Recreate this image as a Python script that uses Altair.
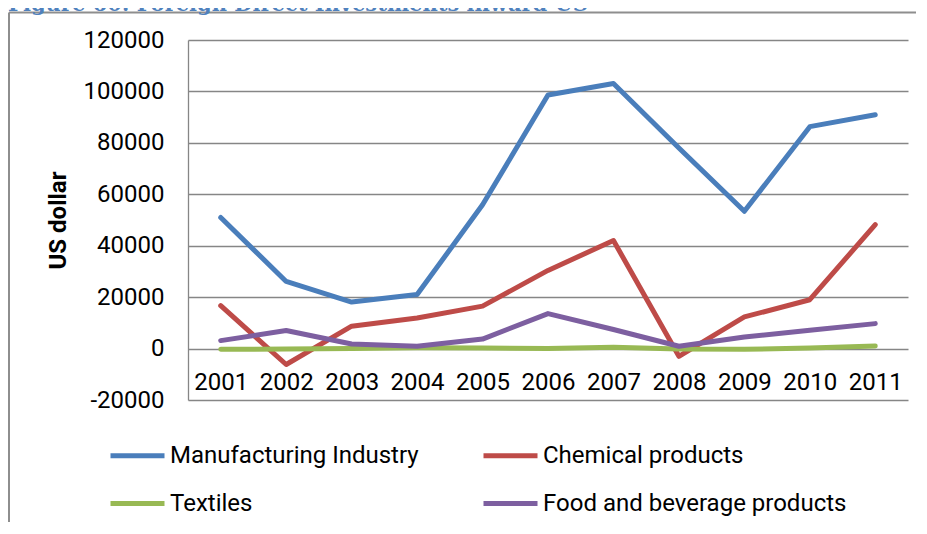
import altair as alt
import pandas as pd

years = [2001, 2002, 2003, 2004, 2005, 2006, 2007, 2008, 2009, 2010, 2011]
manufacturing = [51000, 26100, 18100, 21000, 55900, 98600, 103100, 78000, 53400, 86300, 90900]
chemical = [16700, -6200, 8700, 11900, 16500, 30400, 42000, -3000, 12300, 19000, 48200]
textiles = [-300, -200, 0, 300, 200, 0, 500, -200, -300, 200, 1000]
food = [3100, 7000, 1800, 900, 3700, 13600, 7400, 900, 4500, 7100, 9700]

series_names = ["Manufacturing Industry", "Chemical products", "Textiles", "Food and beverage products"]
series_values = [manufacturing, chemical, textiles, food]
series_colors = ["#4A7EBB", "#BE4B48", "#98B954", "#7D5FA0"]

y_ticks = [-20000, 0, 20000, 40000, 60000, 80000, 100000, 120000]
title_text = "Figure 60: Foreign Direct Investments inward US"
y_title = "US dollar"

rows = []
for name, vals in zip(series_names, series_values):
    for yr, v in zip(years, vals):
        rows.append({"Year": str(yr), "Value": v, "Series": name})
df = pd.DataFrame(rows)

W, H = 720, 360
FONT = "Roboto"

lines = alt.Chart(df).mark_line(strokeWidth=5, strokeCap="round", strokeJoin="round").encode(
    x=alt.X("Year:O", scale=alt.Scale(type="point", padding=0.5),
            axis=alt.Axis(title=None, orient="bottom", offset=-51.4, labelPadding=22,
                          ticks=False, domain=False, grid=False, labelAngle=0,
                          labelFont=FONT, labelFontSize=24, labelColor="#000000")),
    y=alt.Y("Value:Q", scale=alt.Scale(domain=[-20000, 120000], nice=False, zero=False),
            axis=alt.Axis(values=y_ticks, title=y_title, format="d", ticks=False,
                          labelExpr="replace(datum.label, '\u2212', '-')",
                          labelPadding=24, labelFont=FONT, labelFontSize=24, labelColor="#000000",
                          grid=True, gridColor="#868686", gridWidth=1.3,
                          domain=True, domainColor="#868686", domainWidth=1.3,
                          titleFont=FONT, titleFontSize=24, titleFontWeight="bold",
                          titleColor="#000000", titleAngle=270, titleX=-130, titleY=180,
                          titleAlign="center", titleBaseline="middle")),
    color=alt.Color("Series:N",
                    scale=alt.Scale(domain=series_names, range=series_colors),
                    sort=series_names,
                    legend=alt.Legend(title=None, orient="none", legendX=-80, legendY=386,
                                      direction="horizontal", columns=2, columnPadding=54,
                                      rowPadding=6, symbolType="stroke", symbolSize=2916,
                                      symbolStrokeWidth=5, labelOffset=3,
                                      labelFont=FONT, labelFontSize=24, labelColor="#000000",
                                      labelLimit=400)),
)

one = pd.DataFrame({"a": [0]})
border_top = alt.Chart(one).mark_rule(color="#8E8E8E", strokeWidth=2).encode(
    x=alt.value(-179), x2=alt.value(W + 40), y=alt.value(-27.5))
border_left = alt.Chart(one).mark_rule(color="#8E8E8E", strokeWidth=2).encode(
    x=alt.value(-179), y=alt.value(-27.5), y2=alt.value(H + 200))
title = alt.Chart(one).mark_text(align="left", baseline="alphabetic", font="DejaVu Serif",
                                 fontSize=21, fontWeight="bold", color="#4F81BD").encode(
    x=alt.value(-180), y=alt.value(-29.5), text=alt.value(title_text))

chart = alt.layer(border_top, border_left, title, lines).properties(
    width=W, height=H,
    padding={"left": 180, "top": 32, "right": 8, "bottom": 122},
    autosize=alt.AutoSizeParams(type="none"),
    background="white",
).configure_view(strokeWidth=0)

chart.save("out.html", embed_options={"renderer": "svg", "actions": False})
